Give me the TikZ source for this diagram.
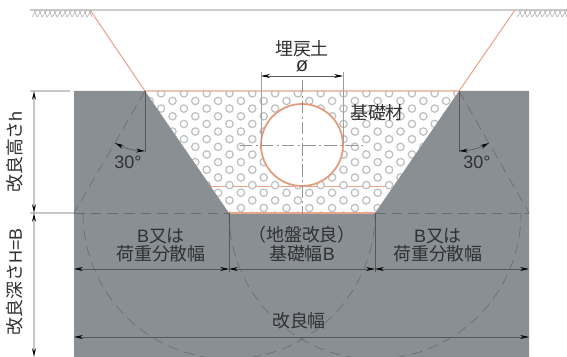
\documentclass[tikz,border=0pt]{standalone}
\usepackage{fontspec}
\setmainfont{Noto Sans CJK JP}
\newfontfamily\latinfont{Liberation Sans}
\usetikzlibrary{arrows.meta}
\definecolor{blockgray}{HTML}{8A8F93}
\definecolor{soilline}{HTML}{E8A58C}
\definecolor{pipeline}{HTML}{E59A7C}
\definecolor{ringgray}{HTML}{BDBFC1}
\definecolor{inkgray}{HTML}{2F3133}
\definecolor{dimgray}{HTML}{55585B}
\definecolor{dashgray}{HTML}{686C70}

\begin{document}
\begin{tikzpicture}[x=0.02cm,y=-0.02cm]
    \tikzstyle{Label}=[text = inkgray, font = \fontsize{10.2}{12.4}\selectfont, align = center, inner sep = 0pt]
    \tikzstyle{Angle}=[text = inkgray, font = \latinfont\fontsize{10.2}{12}\selectfont, inner sep = 0pt]
    \tikzstyle{Dim}=[draw = dimgray, line width = 0.35pt, {Stealth[length=5pt,width=2.2pt,black]}-{Stealth[length=5pt,width=2.2pt,black]}]
    \tikzstyle{Side}=[draw = black!22, line width = 0.8pt, {Stealth[length=5pt,width=2.2pt,black]}-{Stealth[length=5pt,width=2.2pt,black]}]
    \tikzstyle{Ext}=[draw = black!22, line width = 0.7pt]
    \tikzstyle{Thin}=[draw = black!38, line width = 0.3pt]
    \tikzstyle{Tick}=[draw = dimgray, line width = 0.35pt]
    \tikzstyle{Spread}=[draw = dashgray, line width = 0.35pt, dash pattern = on 6pt off 3.5pt]
    \tikzstyle{Center}=[draw = black!42, line width = 0.3pt, dash pattern = on 7pt off 2pt on 1pt off 2pt]
    \tikzstyle{Hatch}=[draw = black!30, line width = 0.35pt]
    \useasboundingbox (0,0) rectangle (567,357);

    % outline of the trench
    \coordinate (GroundL) at (90,10);
    \coordinate (GroundR) at (515,10);
    \coordinate (TopL) at (145,91);
    \coordinate (TopR) at (459,91);
    \coordinate (BaseL) at (229,213);
    \coordinate (BaseR) at (375,213);
    \coordinate (BlockTL) at (74,91);
    \coordinate (BlockTR) at (529,91);
    \coordinate (BlockML) at (74,213);
    \coordinate (BlockMR) at (529,213);
    \coordinate (PipeC) at (302,145);

    % rings of the base material
    \draw[soilline, line width = 0.5pt] (210,186) -- (394,186);
    \begin{scope}
        \clip (TopL) -- (TopR) -- (BaseR) -- (BaseL) -- cycle;
        \foreach \j in {0,...,16} {
            \foreach \i in {-4,...,12} {
                \draw[ringgray, fill = white, line width = 0.7pt]
                    ({206.7+22.8*\i+11.4*mod(\j,2)},{93.3+7.65*\j}) circle (3.7);
            }
        }
    \end{scope}

    % ground
    \fill[blockgray] (BlockTL) -- (TopL) -- (BaseL) -- (BaseR) -- (TopR) -- (BlockTR) -- (529,357) -- (74,357) -- cycle;
    \draw[black!20, line width = 0.9pt] (30,10) -- (567,10);
    \foreach \x in {32,37,...,87} {
        \draw[Hatch] (\x,17) -- (\x+5,10);
        \draw[Hatch] (\x+5,17) -- (\x+2,10);
    }
    \foreach \x in {517,522,...,562} {
        \draw[Hatch] (\x,17) -- (\x+5,10);
        \draw[Hatch] (\x+5,17) -- (\x+2,10);
    }

    % pipe and backfill lines
    \draw[soilline, line width = 0.6pt] (GroundL) -- (TopL) -- (TopR) -- (GroundR);
    \draw[soilline, line width = 0.6pt] (BaseL) -- (BaseR);
    \draw[pipeline, fill = white, line width = 1pt] (PipeC) circle (41);
    \draw[Center] (302,80) -- (302,221);
    \draw[Center] (240,145) -- (365,145);

    % spread lines
    \draw[Spread] (TopL) -- (BlockML);
    \draw[Spread] (TopR) -- (BlockMR);
    \draw[Spread] (BlockML) -- (BaseL);
    \draw[Spread] (BaseR) -- (BlockMR);
    \draw[Spread] (83,213) arc (180:0:146);
    \draw[Spread] (229,213) arc (180:0:146);

    % angles
    \draw[Tick] (TopL) -- (145,152);
    \draw[Tick] (TopR) -- (459,152);
    \draw[Dim] (115,143) to[bend right=12] (145,151);
    \draw[Dim] (489,143) to[bend left=12] (459,151);
    \node[Angle] (AngleL) at (128,162) {30°};
    \node[Angle] (AngleR) at (477,162) {30°};

    % pipe width
    \draw[Thin] (261,72) -- (261,145);
    \draw[Thin] (343,72) -- (343,145);
    \draw[Dim] (261,76) -- (343,76);

    % widths
    \draw[Tick] (BaseL) -- (229,272);
    \draw[Tick] (BaseR) -- (375,272);
    \draw[Dim] (74,269) -- (229,269);
    \draw[Dim] (229,269) -- (375,269);
    \draw[Dim] (375,269) -- (529,269);
    \draw[Dim] (74,337) -- (529,337);

    % heights
    \draw[Ext] (30,91) -- (70,91);
    \draw[Ext] (30,213) -- (74,213);
    \draw[Side] (34,91) -- (34,213);
    \draw[Side] (34,213) -- (34,357);

    % labels
    \node[Label] (Backfill) at (302,49) {埋戻土};
    \node[Label, font = \latinfont\fontsize{11.5}{12}\selectfont] (Phi) at (302,66) {ø};
    \node[Label] (Base) at (377,113) {基礎材};
    \node[Label] (SpreadL) at (161,245) {{\latinfont B}又は\\[-2pt]荷重分散幅};
    \node[Label] (SpreadR) at (438,245) {{\latinfont B}又は\\[-2pt]荷重分散幅};
    \node[Label] (Width) at (302,244) {（地盤改良）\\[-2pt]基礎幅{\latinfont B}};
    \node[Label] (Improved) at (299,321) {改良幅};
    \node[Label, rotate = 90] (Height) at (15,152) {改良高さ{\latinfont h}};
    \node[Label, rotate = 90] (Depth) at (15,282) {改良深さ{\latinfont H=B}};
\end{tikzpicture}
\end{document}
